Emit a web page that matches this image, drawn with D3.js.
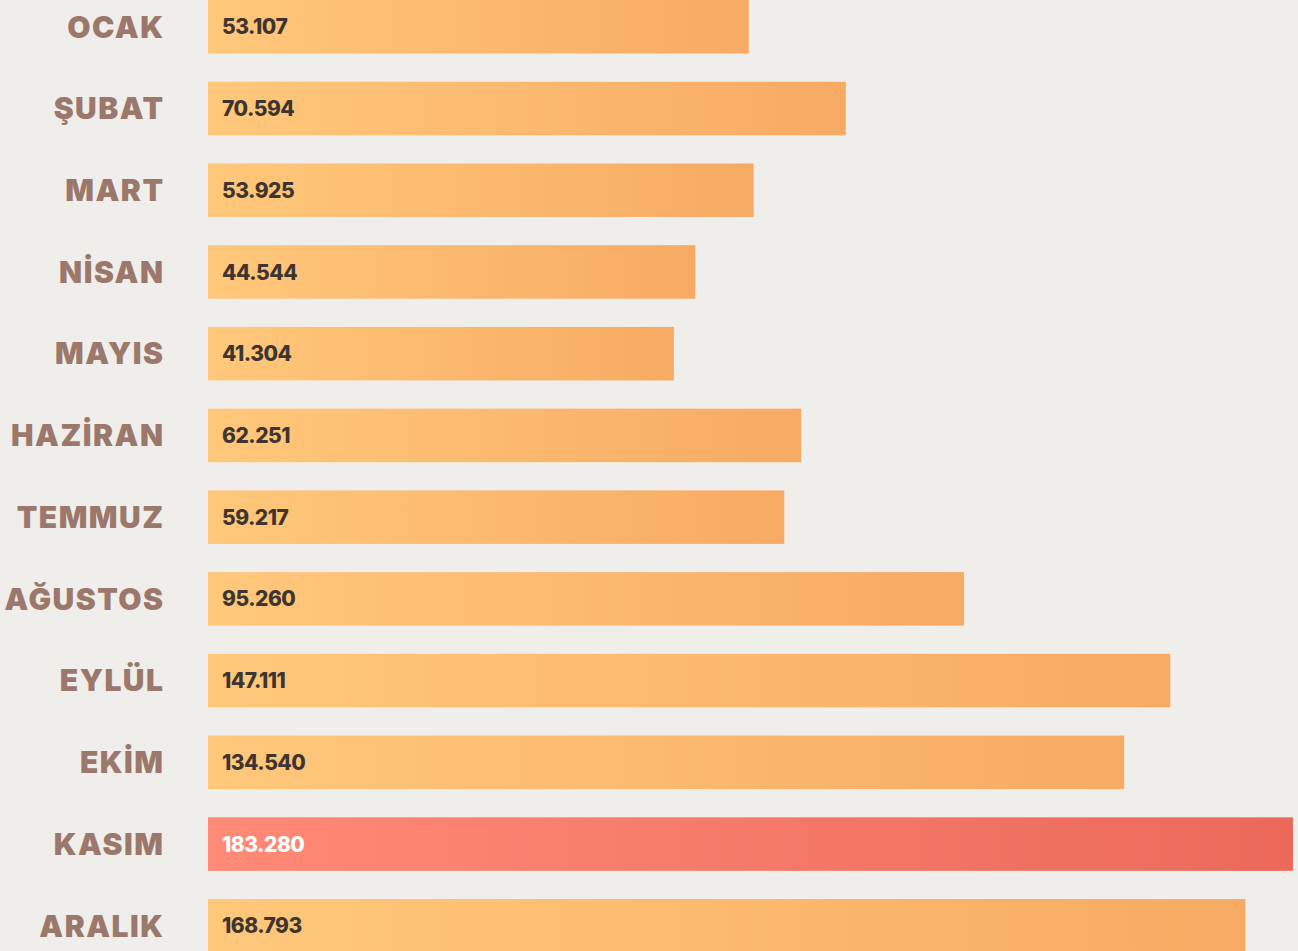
<!DOCTYPE html>
<html>
<head>
<meta charset="utf-8">
<script src="https://cdn.jsdelivr.net/npm/d3@7"></script>
<style>
  html, body { margin: 0; padding: 0; background: #efeeea; overflow: hidden; }
  svg { display: block; }
</style>
</head>
<body>
<svg id="chart"></svg>
<script>
// months (Turkish) and monthly values
const months = ["OCAK", "ŞUBAT", "MART", "NİSAN", "MAYIS", "HAZİRAN", "TEMMUZ", "AĞUSTOS", "EYLÜL", "EKİM", "KASIM", "ARALIK"];
const values = [53107, 70594, 53925, 44544, 41304, 62251, 59217, 95260, 147111, 134540, 183280, 168793];
const highlight = ["KASIM"];

const width = 1298, height = 951;
const margin = { top: 0, right: 5, bottom: 0, left: 208 };
const step = 81.73, pad = 0.345;

const data = months.map((m, i) => ({ month: m, value: values[i] }));

const svg = d3.select("#chart")
  .attr("width", width)
  .attr("height", height);

// gradients for normal and highlighted bars
const defs = svg.append("defs");
const grad = (id, from, to) => {
  const g = defs.append("linearGradient").attr("id", id)
    .attr("x1", "0%").attr("x2", "100%").attr("y1", "0%").attr("y2", "0%");
  g.append("stop").attr("offset", "0%").attr("stop-color", from);
  g.append("stop").attr("offset", "100%").attr("stop-color", to);
};
grad("barGrad", "#ffc87b", "#f7aa63");
grad("hiGrad", "#ff8a76", "#ec695a");

const y = d3.scaleBand()
  .domain(months)
  .range([margin.top, margin.top + step * (months.length - pad)])
  .paddingInner(pad)
  .paddingOuter(0);

// the designer's bars are compressed; a sqrt scale follows them closest
const x = d3.scaleSqrt()
  .domain([1160, d3.max(values)])
  .range([margin.left, width - margin.right]);

const rows = svg.append("g")
  .selectAll("g")
  .data(data)
  .join("g")
  .attr("transform", d => `translate(0,${y(d.month)})`);

rows.append("rect")
  .attr("x", margin.left)
  .attr("y", 0)
  .attr("height", y.bandwidth())
  .attr("width", d => x(d.value) - margin.left)
  .attr("fill", d => highlight.includes(d.month) ? "url(#hiGrad)" : "url(#barGrad)");

// month labels
rows.append("text")
  .attr("x", margin.left - 43.5)
  .attr("y", y.bandwidth() / 2)
  .attr("dy", "0.36em")
  .attr("text-anchor", "end")
  .style("font-family", "Inter, Lato, sans-serif")
  .style("font-weight", 900)
  .style("font-size", "30px")
  .style("letter-spacing", "1.5px")
  .style("fill", "#9b786b")
  .text(d => d.month);

// value labels inside bars
const fmt = v => d3.format(",")(v).replace(/,/g, ".");
rows.append("text")
  .attr("x", margin.left + 14)
  .attr("y", y.bandwidth() / 2)
  .attr("dy", "0.36em")
  .style("font-family", "Inter, Lato, sans-serif")
  .style("font-weight", 800)
  .style("font-size", "21px")
  .style("letter-spacing", "-0.5px")
  .style("fill", d => highlight.includes(d.month) ? "#ffffff" : "#3e3530")
  .text(d => fmt(d.value));
</script>
</body>
</html>
